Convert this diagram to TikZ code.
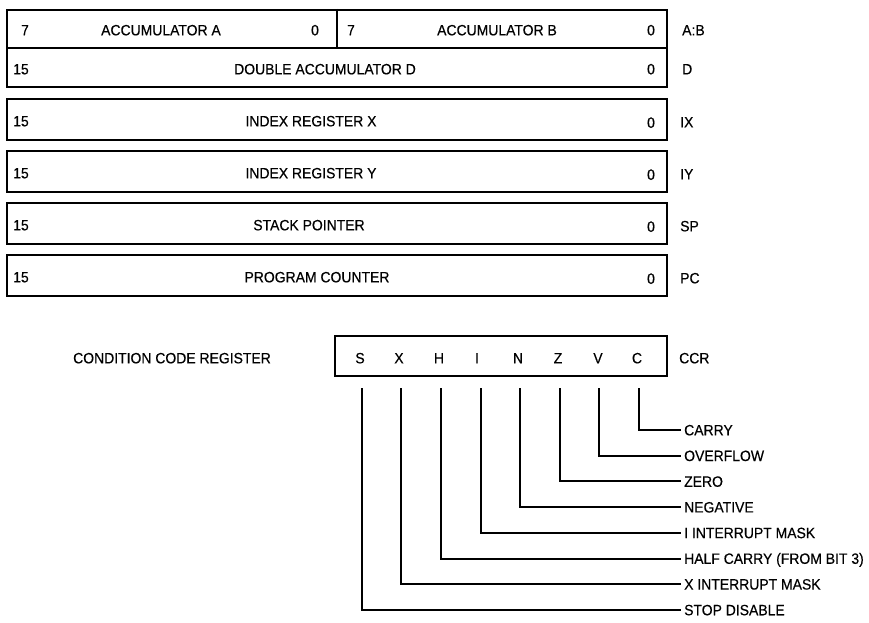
\documentclass[tikz,border=0pt]{standalone}
\usepackage{fontspec}
\setmainfont{Liberation Sans}[FakeStretch=0.93,FakeBold=0.4]
\begin{document}
\begin{tikzpicture}[x=1pt,y=-1pt,
  txt/.style={inner sep=0pt, text height=10.7pt, text depth=0pt, font=\fontsize{15}{17}\selectfont},
  reg/.style={draw, line width=2.3pt, inner sep=0pt},
  lead/.style={line width=2pt},
  lbl/.style={txt, anchor=west}]
\useasboundingbox (0,0) rectangle (869,623);

% register boxes
\node[reg, minimum width=660pt, minimum height=38pt] (ab) at (337,29) {};
\node[reg, minimum width=660pt, minimum height=39pt] (d)  at (337,67.5) {};
\node[reg, minimum width=660pt, minimum height=41pt] (ix) at (337,119.5) {};
\node[reg, minimum width=660pt, minimum height=41pt] (iy) at (337,171.5) {};
\node[reg, minimum width=660pt, minimum height=41pt] (sp) at (337,223.5) {};
\node[reg, minimum width=660pt, minimum height=41pt] (pc) at (337,275.5) {};
\draw[line width=2.3pt] (ab.north) -- (ab.south);

% A:B row
\node[txt] (a7) at (25,30) {7};
\node[txt] (an) at (161,30) {ACCUMULATOR A};
\node[txt] (a0) at (315,30) {0};
\node[txt] (b7) at (351,30) {7};
\node[txt] (bn) at (497,30) {ACCUMULATOR B};
\node[txt] (b0) at (651,30) {0};
\node[lbl] (abl) at (682,30) {A:B};
% D row
\node[txt] (d15) at (21,69) {15};
\node[txt] (dn) at (325,69) {DOUBLE ACCUMULATOR D};
\node[txt] (d0) at (651,69) {0};
\node[lbl] (dl) at (682,69) {D};
% IX
\node[txt] (x15) at (21,121) {15};
\node[txt] (xn) at (311,121) {INDEX REGISTER X};
\node[txt] (x0) at (651,122.5) {0};
\node[lbl] (xl) at (680,122) {IX};
% IY
\node[txt] (y15) at (21,173) {15};
\node[txt] (yn) at (311,173) {INDEX REGISTER Y};
\node[txt] (y0) at (651,174.5) {0};
\node[lbl] (yl) at (680,174) {IY};
% SP
\node[txt] (s15) at (21,225) {15};
\node[txt] (sn) at (309,225) {STACK POINTER};
\node[txt] (s0) at (651,226.5) {0};
\node[lbl] (sl) at (680,226) {SP};
% PC
\node[txt] (p15) at (21,277) {15};
\node[txt] (pn) at (317,277) {PROGRAM COUNTER};
\node[txt] (p0) at (651,278.5) {0};
\node[lbl] (pl) at (680,278) {PC};

% CCR
\node[txt, anchor=west] (ccrname) at (73,358) {CONDITION CODE REGISTER};
\node[reg, minimum width=332pt, minimum height=40pt] (ccr) at (501,356) {};
\node[lbl] (ccrl) at (679,358) {CCR};
\node[txt] (bS) at (360,358) {S};
\node[txt] (bX) at (399,358) {X};
\node[txt] (bH) at (439,358) {H};
\node[txt] (bI) at (477,358) {I};
\node[txt] (bN) at (518,358) {N};
\node[txt] (bZ) at (558,358) {Z};
\node[txt] (bV) at (598,358) {V};
\node[txt] (bC) at (637,358) {C};

\coordinate (tS) at (362,388);
\coordinate (tX) at (401,388);
\coordinate (tH) at (441,388);
\coordinate (tI) at (481,388);
\coordinate (tN) at (520,388);
\coordinate (tZ) at (560,388);
\coordinate (tV) at (599,388);
\coordinate (tC) at (639,388);

\node[lbl] (lC) at (684,430) {CARRY};
\node[lbl] (lV) at (684,455.7) {OVERFLOW};
\node[lbl] (lZ) at (684,481.4) {ZERO};
\node[lbl] (lN) at (684,507.1) {NEGATIVE};
\node[lbl] (lI) at (684,532.8) {I INTERRUPT MASK};
\node[lbl] (lH) at (684,558.5) {HALF CARRY (FROM BIT 3)};
\node[lbl] (lX) at (684,584.2) {X INTERRUPT MASK};
\node[lbl] (lS) at (684,609.9) {STOP DISABLE};

\foreach \k in {S,X,H,I,N,Z,V,C}{
  \draw[lead] (t\k) |- ([xshift=-3.5pt]l\k.west);
}
\end{tikzpicture}
\end{document}
